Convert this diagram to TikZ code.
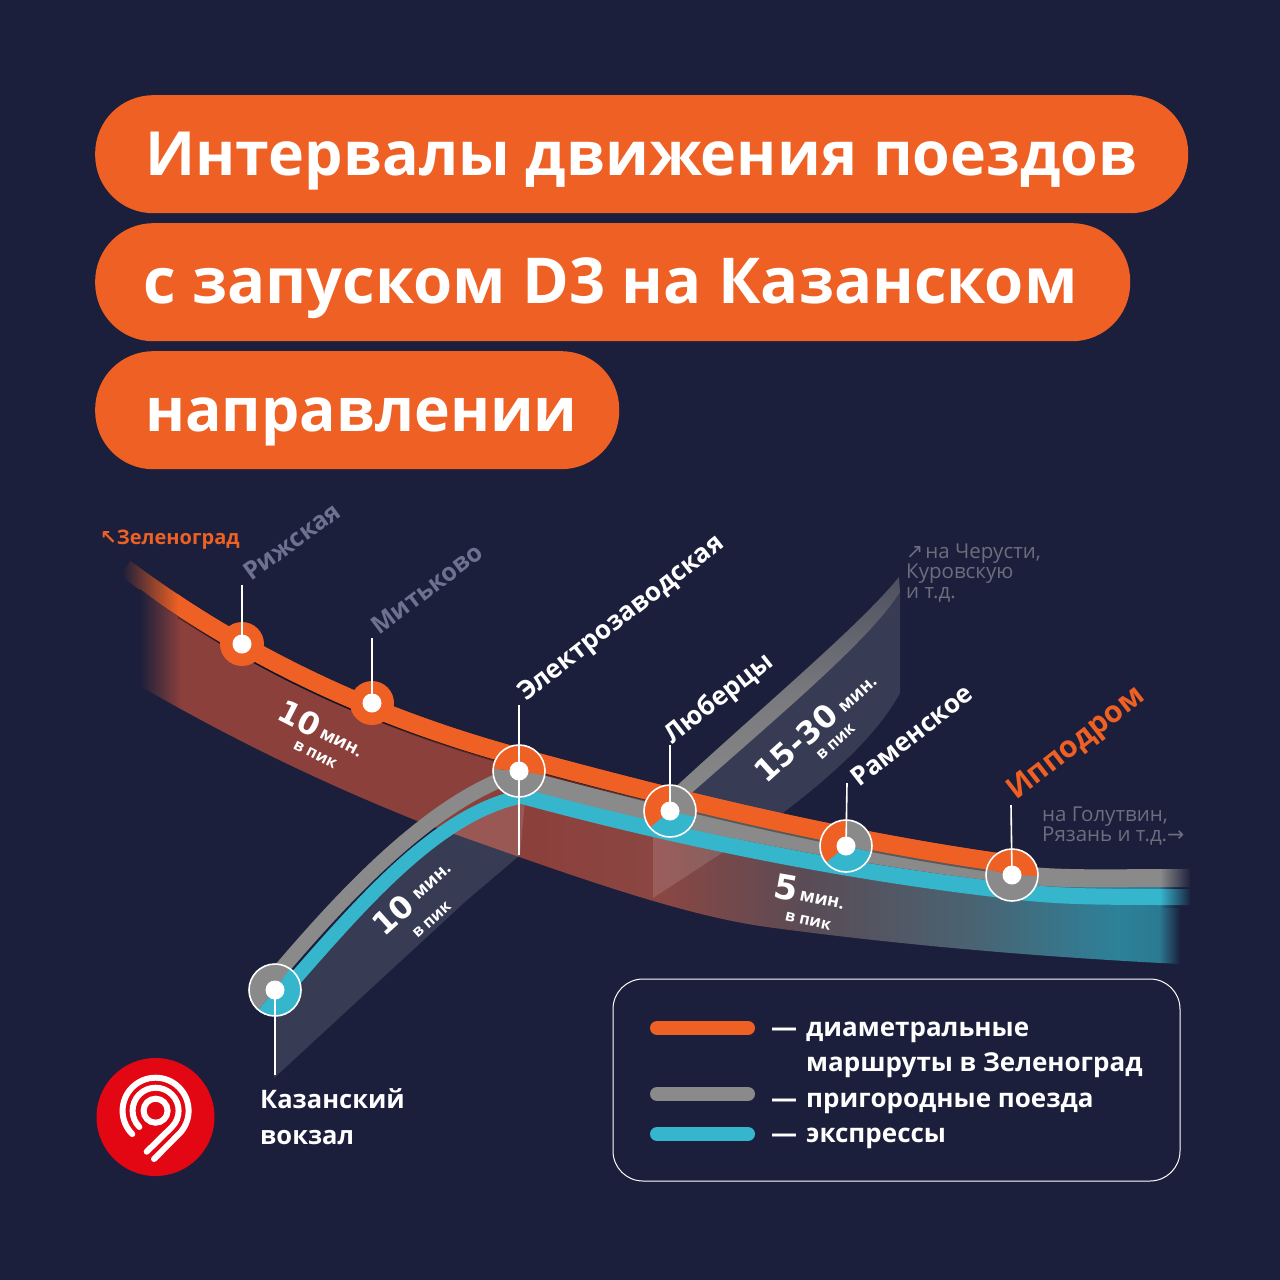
\documentclass[tikz,border=0pt]{standalone}
\usepackage{fontspec}
\setmainfont{Open Sans}
\newfontfamily\numfont{DejaVu Sans}
\usetikzlibrary{fadings}

\definecolor{bgnavy}{HTML}{1B1F3B}
\definecolor{dorange}{HTML}{EE6024}
\definecolor{dgrey}{HTML}{8A8A8A}
\definecolor{dcyan}{HTML}{36B6CC}
\definecolor{dred}{HTML}{E30613}
\definecolor{dbrown}{HTML}{8C403C}
\definecolor{fadedname}{HTML}{6E7291}
\definecolor{smallgrey}{HTML}{6C6E7E}

\pgfdeclarehorizontalshading{bandshade}{100bp}{
  color(0bp)=(bgnavy); color(25bp)=(bgnavy); color(27bp)=(dbrown); color(44bp)=(dbrown);
  color(50bp)=(dbrown!90!gray); color(57bp)=(dbrown!35!gray!60!bgnavy); color(65bp)=(dcyan!30!gray!60!bgnavy);
  color(72bp)=(dcyan!65!bgnavy); color(74bp)=(dcyan!60!bgnavy); color(75bp)=(bgnavy); color(100bp)=(bgnavy)}
\tikzfading[name=fadeinto, left color=transparent!100, right color=transparent!0]
\tikzfading[name=fadefrom, left color=transparent!0, right color=transparent!100]

\newcommand{\stationpie}[4]{\fill[#1] (#2) -- ++(#3:26pt) arc[start angle=#3,end angle=#4,radius=26pt] -- cycle;}
\newcommand{\namesize}[1]{\fontsize{#1}{#1}\selectfont\bfseries}

\tikzset{
  pill/.style={fill=dorange,rounded corners=58pt,anchor=north west,minimum height=118pt,inner xsep=50pt,inner ysep=0pt,text=white,text height=46pt,text depth=4pt},
  trackline/.style={line width=#1,line cap=butt},
  trackorange/.style={insert path={(125,568) .. controls (255,665) and (390,722) .. (519,757) .. controls (680,801) and (850,842) .. (1012,864)}},
  trackgrey/.style={insert path={(515,777) .. controls (680,822) and (850,855) .. (1012,874) .. controls (1060,880) and (1100,878) .. (1190,878)}},
  trackcyan/.style={insert path={(515,794) .. controls (680,839) and (850,873) .. (1012,891) .. controls (1060,897) and (1100,897) .. (1190,897)}},
  leader/.style={draw=white,line width=1.6pt},
  stnring/.style={circle,draw=white,line width=1.6pt,minimum size=52pt,inner sep=0pt},
  stnfull/.style={circle,fill=dorange,minimum size=44pt,inner sep=0pt},
  stndot/.style={circle,fill=white,minimum size=19pt,inner sep=0pt},
  stnname/.style={anchor=base west,text=white,font=\namesize{26},inner sep=0pt,rotate=38},
  bignum/.style={text=white,font=\numfont\fontsize{31}{31}\selectfont\bfseries,inner sep=0pt},
  minnote/.style={text=white,font=\fontsize{18}{18}\selectfont\bfseries,inner sep=0pt},
  peaknote/.style={text=white,font=\fontsize{16}{16}\selectfont\bfseries,inner sep=0pt},
  legendtext/.style={anchor=base west,text=white,font=\fontsize{26}{26}\selectfont\bfseries,inner sep=0pt},
  legendkey/.style={line width=14pt,line cap=round},
  smallnote/.style={anchor=north west,text=smallgrey,font=\fontsize{20.5}{20}\selectfont,align=left,inner sep=0pt},
  logoline/.style={draw=white,line width=6pt,line cap=round}
}

\begin{document}
\begin{tikzpicture}[x=1pt,y=-1pt]
  \useasboundingbox (0,0) rectangle (1280,1280);
  \fill[bgnavy] (0,0) rectangle (1280,1280);

  % heading
  \node[pill,minimum width=1093pt,font=\namesize{60.9}] (headone) at (95,95) {\makebox[993pt][l]{Интервалы движения поездов}};
  \node[pill,minimum width=1035pt,font=\namesize{63.3},inner xsep=48pt] (headtwo) at (95,223) {\makebox[939pt][l]{с запуском D3 на Казанском}};
  \node[pill,minimum width=524pt,font=\namesize{60.6}] (headthree) at (95,351) {\makebox[424pt][l]{направлении}};

  % tail of the orange line, under the band
  \draw[dorange,trackline=18pt,trackorange];
  \fill[bgnavy,path fading=fadefrom] (122,552) rectangle (178,640);
  \fill[bgnavy] (112,552) rectangle (124,600);

  % bands
  \shade[shading=bandshade] (140,589) .. controls (262,682) and (390,732) .. (519,767) .. controls (680,811) and (850,850) .. (1012,872) -- (1180,880)
    -- (1180,964) .. controls (1040,957) and (900,945) .. (767,927) .. controls (670,914) and (530,860) .. (420,822) .. controls (320,782) and (230,738) .. (140,686) -- cycle;
  \fill[white,opacity=.13] (275,1003) .. controls (360,908) and (440,812) .. (525,800) -- (520,855) -- (467,900) -- (274,1078) -- cycle;
  \fill[white,opacity=.13] (900,592) .. controls (870,640) and (780,715) .. (670,812) -- (653,820) -- (653,898) -- (780,815) .. controls (840,770) and (880,730) .. (900,693) -- cycle;

  % branches
  \shade[top color=dgrey!45!bgnavy,bottom color=dgrey,middle color=dgrey!85!bgnavy] (899,577) .. controls (860,625) and (770,700) .. (670,792)
    -- (670,812) .. controls (780,715) and (870,640) .. (900,592) -- cycle;
  \draw[dgrey,trackline=15pt] (272,980) .. controls (340,900) and (430,800) .. (522,772);
  \draw[dcyan,trackline=14pt] (280,996) .. controls (360,905) and (440,808) .. (530,795);

  % main line
  \draw[dcyan,trackline=16pt,trackcyan];
  \draw[dgrey,trackline=18pt,trackgrey];
  \begin{scope}
    \clip (178,550) rectangle (1030,900);
    \draw[black,opacity=.35,yshift=-2pt,trackline=18pt,trackorange];
    \draw[dorange,trackline=18pt,trackorange];
  \end{scope}
  \fill[bgnavy,path fading=fadeinto] (1160,864) rectangle (1191,908);

  % stations
  \foreach \stn/\x/\y in {rizhskaya/242/644,mitkovo/372/703,elektro/519/771,lubertsy/670/811,ramenskoe/846/846,ippodrom/1012/875,kazansky/275/990}
    \coordinate (\stn) at (\x,\y);
  \foreach \stn/\x/\y in {rizhskaya/242/585,mitkovo/372/638,elektro/519/705,lubertsy/670/745,ramenskoe/847/783,ippodrom/1011/805,kazansky/275/1075}
    \coordinate (\stn tip) at (\x,\y);
  \coordinate (elektro foot) at (519,855);

  \node[stnfull] (rizhskaya disc) at (rizhskaya) {};
  \node[stnfull] (mitkovo disc) at (mitkovo) {};
  \stationpie{dgrey}{elektro}{-9}{-185}
  \stationpie{dorange}{elektro}{-9}{175}
  \stationpie{dorange}{lubertsy}{90}{220}
  \stationpie{dcyan}{lubertsy}{220}{347}
  \stationpie{dgrey}{lubertsy}{347}{450}
  \stationpie{dorange}{ramenskoe}{90}{220}
  \stationpie{dcyan}{ramenskoe}{220}{347}
  \stationpie{dgrey}{ramenskoe}{347}{450}
  \stationpie{dgrey}{ippodrom}{-2}{-193}
  \stationpie{dorange}{ippodrom}{-2}{167}
  \stationpie{dgrey}{kazansky}{55}{230}
  \stationpie{dcyan}{kazansky}{230}{415}
  \foreach \stn in {elektro,lubertsy,ramenskoe,ippodrom,kazansky}
    \node[stnring] (\stn ring) at (\stn) {};
  \foreach \stn in {rizhskaya,mitkovo,elektro,lubertsy,ramenskoe,ippodrom,kazansky}
    \draw[leader] (\stn tip) -- (\stn);
  \draw[leader] (elektro) -- (elektro foot);
  \foreach \stn in {rizhskaya,mitkovo,elektro,lubertsy,ramenskoe,ippodrom,kazansky}
    \node[stndot] (\stn dot) at (\stn) {};

  % names
  \node[stnname,text=fadedname,font=\namesize{25},rotate=-2] (rizhskaya name) at (251,582) {Рижская};
  \node[stnname,text=fadedname,font=\namesize{25},rotate=-1] (mitkovo name) at (379,636) {Митьково};
  \node[stnname] (elektro name) at (526,702) {Электрозаводская};
  \node[stnname] (lubertsy name) at (672,745) {Люберцы};
  \node[stnname] (ramenskoe name) at (859,788) {Раменское};
  \node[stnname,text=dorange,font=\namesize{30}] (ippodrom name) at (1016,801) {Ипподром};
  \node[anchor=north west,text=white,font=\fontsize{25.5}{36}\selectfont\bfseries,align=left,inner sep=0pt] (kazansky name) at (260,1088) {Казанский\\вокзал};

  \node[anchor=base west,text=dorange,font=\namesize{20},inner sep=0pt] (zelenograd) at (100,544) {{\numfont ↖}Зеленоград};
  \node[smallnote] (cherusti) at (906,544) {{\numfont ↗}\hspace{2pt}на Черусти,\\Куровскую\\и т.д.};
  \node[smallnote] (golutvin) at (1042,807) {на Голутвин,\\Рязань и т.д.{\numfont →}};

  % intervals
  \node[bignum,rotate=-27] (redten) at (300,718) {10};
  \node[minnote,rotate=-27] (redmin) at (341,743) {мин.};
  \node[peaknote,rotate=-27] (redpeak) at (315,755) {в пик};
  \node[bignum,rotate=42] (kazten) at (393,915) {10};
  \node[minnote,rotate=42] (kazmin) at (432,882) {мин.};
  \node[peaknote,rotate=42] (kazpeak) at (432,920) {в пик};
  \node[bignum,rotate=42] (branchten) at (796,743) {15-30};
  \node[minnote,rotate=42] (branchmin) at (858,695) {мин.};
  \node[peaknote,rotate=42] (branchpeak) at (836,742) {в пик};
  \node[bignum,rotate=-10,font=\numfont\fontsize{34}{34}\selectfont\bfseries] (fivenum) at (786,888) {5};
  \node[minnote,rotate=-12] (fivemin) at (822,900) {мин.};
  \node[peaknote,rotate=-12] (fivepeak) at (808,921) {в пик};

  % legend
  \draw[white,line width=1pt,rounded corners=30pt] (613,979) rectangle (1180,1181);
  \draw[dorange,legendkey] (657,1028) -- (748,1028);
  \draw[dgrey,legendkey] (657,1094) -- (748,1094);
  \draw[dcyan,legendkey] (657,1134) -- (748,1134);
  \node[legendtext] (legend orange) at (771,1036) {—\hspace{9pt}диаметральные};
  \node[legendtext] (legend orange two) at (806,1071) {маршруты в Зеленоград};
  \node[legendtext] (legend grey) at (771,1107) {—\hspace{9pt}пригородные поезда};
  \node[legendtext] (legend cyan) at (771,1142) {—\hspace{9pt}экспрессы};

  % logo
  \node[circle,fill=dred,minimum size=118pt,inner sep=0pt] (logo) at (155.5,1117) {};
  \coordinate (logo centre) at (155.6,1110.7);
  \draw[logoline] (logo centre) circle[radius=12pt];
  \draw[logoline] (logo centre) ++(225:23pt) arc[start angle=225,end angle=-45,radius=23pt] -- (146.7,1151.7);
  \draw[logoline] (logo centre) ++(225:33pt) arc[start angle=225,end angle=-45,radius=33pt] -- (154,1159);
\end{tikzpicture}
\end{document}
